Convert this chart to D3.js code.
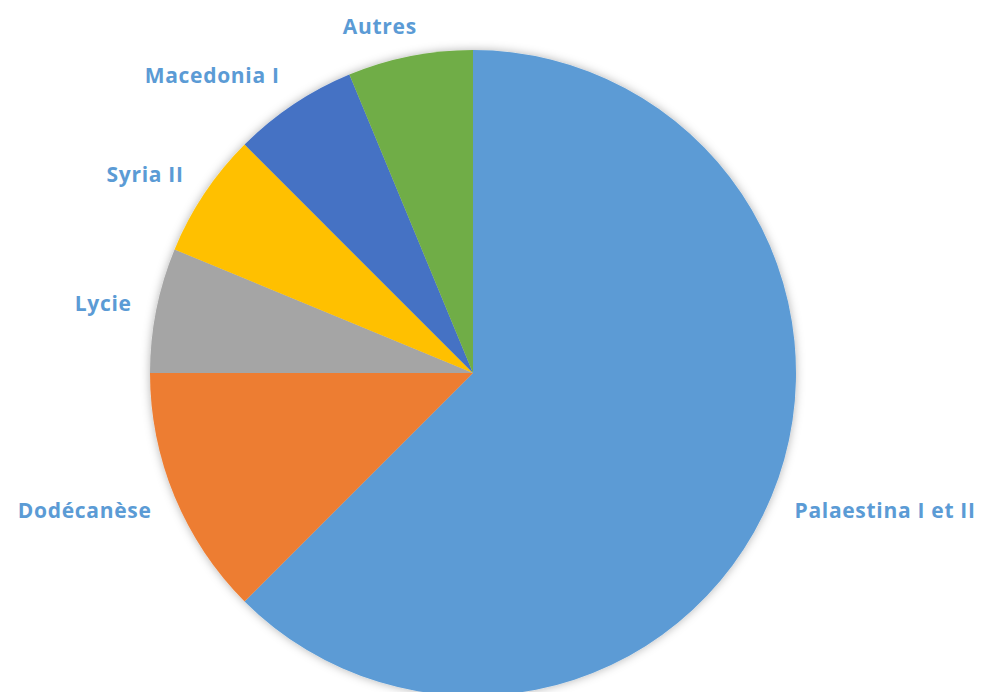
<!DOCTYPE html>
<html><head><meta charset="utf-8">
<script src="https://cdn.jsdelivr.net/npm/d3@7"></script>
<style>html,body{margin:0;padding:0;background:#fff;}</style>
</head><body>
<svg id="c" width="983" height="692"></svg>
<script>
const categories = ["Palaestina I et II","Dodécanèse","Lycie","Syria II","Macedonia I","Autres"];
const values = [10,2,1,1,1,1];
const colors = ["#5B9BD5","#ED7D31","#A5A5A5","#FFC000","#4472C4","#70AD47"];

const svg = d3.select("#c");
const cx = 473, cy = 373, R = 323;
const defs = svg.append("defs");
const f = defs.append("filter").attr("id","sh").attr("x","-20%").attr("y","-20%").attr("width","140%").attr("height","140%");
f.append("feDropShadow").attr("dx",0).attr("dy",0).attr("stdDeviation",5).attr("flood-color","#000").attr("flood-opacity",0.3);

const data = categories.map((c,i)=>({c, v:values[i], col:colors[i]}));
const pie = d3.pie().value(d=>d.v).sort(null);
const arcs = pie(data);
const arc = d3.arc().innerRadius(0).outerRadius(R);
const g = svg.append("g").attr("transform",`translate(${cx},${cy})`);
g.append("g").attr("filter","url(#sh)").selectAll("path").data(arcs).join("path")
  .attr("d",arc).attr("fill",d=>d.data.col);

const rl = 348;
const lab = g.append("g").selectAll("text").data(arcs).join("text")
  .attr("font-family","'Open Sans', sans-serif").attr("font-weight","bold")
  .attr("font-size",21).attr("letter-spacing","0.7px").attr("fill","#5B9BD5")
  .attr("dominant-baseline","central").attr("text-anchor","middle")
  .text(d=>d.data.c);
lab.each(function(d){
  const a = (d.startAngle+d.endAngle)/2;
  const s = Math.sin(a), c = Math.cos(a);
  const bb = this.getBBox();
  const w = bb.width, h = 22;
  const px = s*rl, py = -c*rl;
  const k = Math.max(-1, Math.min(1, s*3.5));
  d3.select(this).attr("x", px + k*w/2).attr("y", py - c*h/2 + (Math.abs(c)>0.95?5:0));
});
</script>
</body></html>
